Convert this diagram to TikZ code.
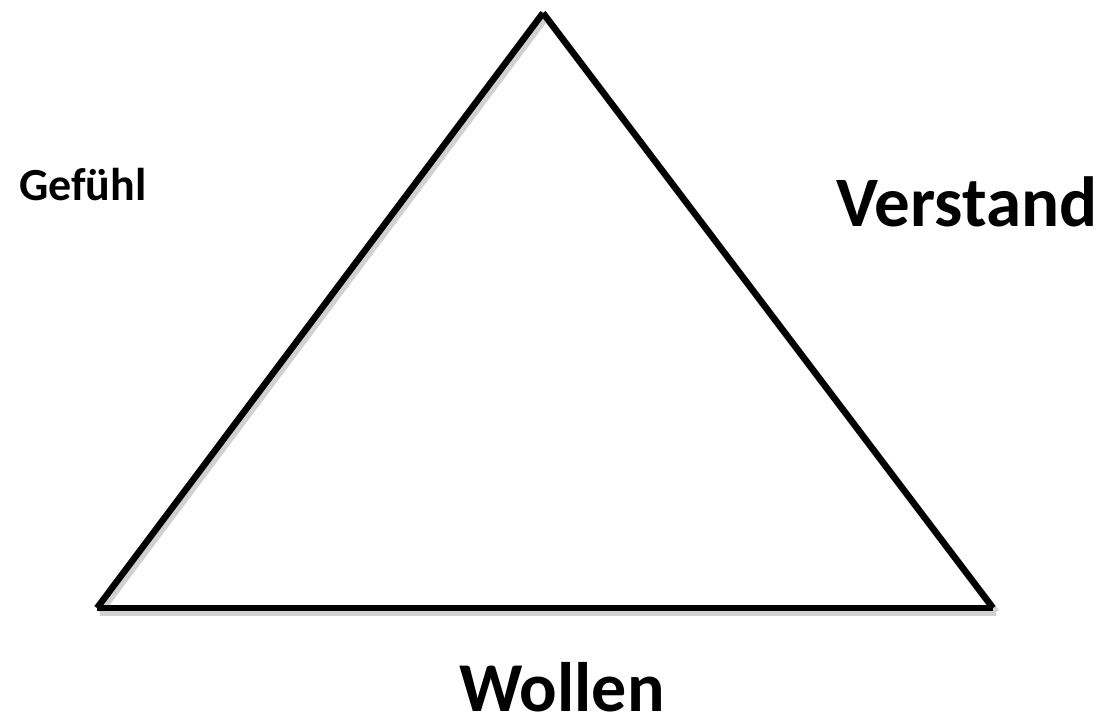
\documentclass[tikz,border=0pt]{standalone}
\usepackage{fontspec}
\setmainfont{Carlito}
\begin{document}
\begin{tikzpicture}[x=1pt,y=-1pt,
  edge/.style={line width=6.5pt, black, line cap=butt},
  shade/.style={line width=7pt, black!18, line cap=butt},
  lbl/.style={font=\bfseries, inner sep=0pt, anchor=base west}]
\useasboundingbox (0,0) rectangle (1109,723);
\fill[white] (0,0) rectangle (1109,723);
\coordinate (top) at (543,13);
\coordinate (bl) at (97,608);
\coordinate (br) at (993,608);
\coordinate (topS) at (546,17);
\coordinate (blS) at (100,612);
\coordinate (brS) at (996,612);
\draw[shade] (topS) -- (blS);
\draw[shade] (blS) -- (brS);
\draw[shade] (topS) -- (brS);
\draw[edge] (top) -- (bl);
\draw[edge] (bl) -- (br);
\draw[edge] (top) -- (br);
\node[lbl, font=\fontsize{46}{54}\selectfont\bfseries] (gef) at (19,200) {Gefühl};
\node[lbl, font=\fontsize{71}{84}\selectfont\bfseries] (ver) at (836,226) {Verstand};
\node[lbl, font=\fontsize{70}{84}\selectfont\bfseries] (wol) at (459,711) {Wollen};
\end{tikzpicture}
\end{document}
